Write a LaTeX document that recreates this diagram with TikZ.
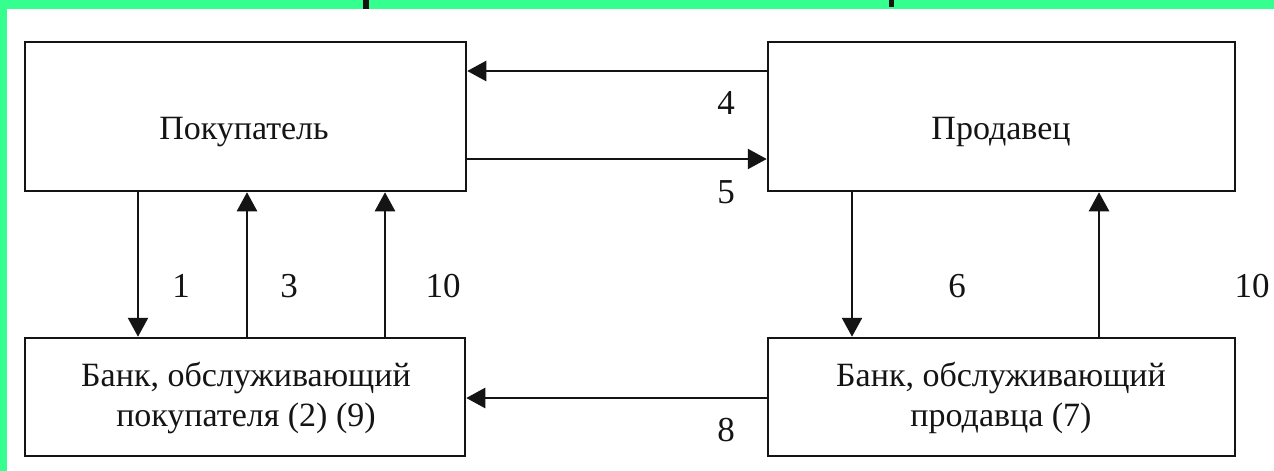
\documentclass[tikz,border=0pt]{standalone}
\usepackage{fontspec}
\setmainfont{Liberation Serif}
\usetikzlibrary{arrows.meta}
\definecolor{framegreen}{RGB}{52,255,143}
\definecolor{ink}{RGB}{20,20,20}
\begin{document}
\begin{tikzpicture}[x=1pt,y=-1pt,
  box/.style={draw=ink,line width=2.5pt,inner sep=0pt},
  arr/.style={draw=ink,line width=2.5pt,-{Triangle[width=20pt,length=19pt]}},
  lbl/.style={text=ink,font=\fontsize{35}{40}\selectfont,inner sep=0pt},
  txt/.style={text=ink,font=\fontsize{34}{40}\selectfont,inner sep=0pt,align=center}]
% background and frame
\fill[white] (0,0) rectangle (1274,471);
\useasboundingbox (0,0) rectangle (1274,471);
\fill[framegreen] (0,0) rectangle (7,471);
\fill[framegreen] (0,0) rectangle (1274,9);
\fill[ink] (363,0) rectangle (369,9);
\fill[ink] (889,0) rectangle (894,7);
% boxes
\node[box,minimum width=441pt,minimum height=149pt] (buyer) at (245.5,116.5) {};
\node[box,minimum width=467pt,minimum height=149pt] (seller) at (1001.5,116.5) {};
\node[box,minimum width=440pt,minimum height=118pt] (bbank) at (245,397) {};
\node[box,minimum width=467pt,minimum height=118pt] (sbank) at (1001.5,397) {};
% box texts
\node[txt] (buyertxt) at (244,132) {Покупатель};
\node[txt] (sellertxt) at (1001,132) {Продавец};
\node[txt] (bbanktxt) at (246,398) {Банк, обслуживающий\\покупателя (2) (9)};
\node[txt] (sbanktxt) at (1001,398) {Банк, обслуживающий\\продавца (7)};
% helper coordinates
\coordinate (y4) at (0,71);
\coordinate (y5) at (0,159);
\coordinate (y8) at (0,398);
\coordinate (x1) at (138,0);
\coordinate (x3) at (247,0);
\coordinate (x10a) at (385,0);
\coordinate (x6) at (852,0);
\coordinate (x10b) at (1099,0);
% connectors
\draw[arr] (seller.west |- y4) -- (buyer.east |- y4);
\draw[arr] (buyer.east |- y5) -- (seller.west |- y5);
\draw[arr] (sbank.west |- y8) -- (bbank.east |- y8);
\draw[arr] (buyer.south -| x1) -- (bbank.north -| x1);
\draw[arr] (bbank.north -| x3) -- (buyer.south -| x3);
\draw[arr] (bbank.north -| x10a) -- (buyer.south -| x10a);
\draw[arr] (seller.south -| x6) -- (sbank.north -| x6);
\draw[arr] (sbank.north -| x10b) -- (seller.south -| x10b);
% labels
\node[lbl] (l4) at (726,103) {4};
\node[lbl] (l5) at (726,192) {5};
\node[lbl] (l8) at (726,430) {8};
\node[lbl] (l1) at (181,286) {1};
\node[lbl] (l3) at (289,286) {3};
\node[lbl] (l10a) at (443,286) {10};
\node[lbl] (l6) at (957,286) {6};
\node[lbl] (l10b) at (1252,286) {10};
\end{tikzpicture}
\end{document}
